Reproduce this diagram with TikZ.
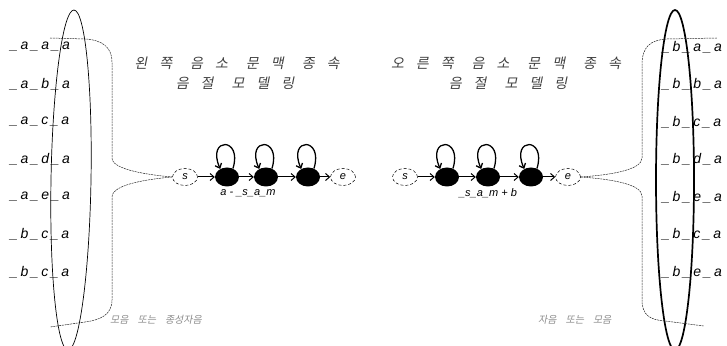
\documentclass[tikz,border=0pt]{standalone}
\usepackage{fontspec}
\setmainfont{Liberation Sans}
\newfontfamily\kor[FakeSlant=0.2]{Noto Sans CJK KR}
\usetikzlibrary{arrows.meta,shapes.geometric}
\newcommand\kg{\hspace{12pt}}
\newcommand\kw{\hspace{18pt}}
\newcommand\rw[3]{\_\kern2.6pt #1\kern2.6pt\_\kern2.6pt #2\kern2.6pt\_\kern2.6pt #3}
\begin{document}
\begin{tikzpicture}[x=1pt,y=1pt,
  rowtxt/.style={font=\itshape\fontsize{14}{14}\selectfont, anchor=west, inner sep=0pt},
  ttl/.style={font=\kor\fontsize{14}{14}\selectfont, text=black!75, inner sep=0pt},
  bot/.style={font=\kor\fontsize{10}{10}\selectfont, text=black!45, anchor=west, inner sep=0pt},
  snode/.style={draw, densely dashed, line width=0.5pt, ellipse, minimum width=25pt, minimum height=17pt, inner sep=0pt, font=\itshape\fontsize{11}{11}\selectfont},
  bnode/.style={fill=black, ellipse, minimum width=24pt, minimum height=19pt, inner sep=0pt},
  arr/.style={line width=1pt, -{Straight Barb[length=4pt,width=7pt]}},
  loopst/.style={line width=1.3pt, -{Straight Barb[length=4pt,width=7pt]}},
  lbl/.style={font=\itshape\fontsize{11}{11}\selectfont, inner sep=0pt},
  brace/.style={line width=0.5pt, black!85, dash pattern=on 2pt off 0.8pt},
  ring/.style={line width=0.7pt},
  thickring/.style={line width=1.7pt}]
\useasboundingbox (0,0) rectangle (727,345);

% left ellipse and rows
\draw[ring, rotate around={-1:(71,165)}] (71,165) ellipse [x radius=20, y radius=170];
\node[rowtxt] (l1) at (10,298) {\rw{a}{a}{a}};
\node[rowtxt] (l2) at (10,260.5) {\rw{a}{b}{a}};
\node[rowtxt] (l3) at (10,223) {\rw{a}{c}{a}};
\node[rowtxt] (l4) at (10,185.5) {\rw{a}{d}{a}};
\node[rowtxt] (l5) at (10,148) {\rw{a}{e}{a}};
\node[rowtxt] (l6) at (10,110.5) {\rw{b}{c}{a}};
\node[rowtxt] (l7) at (10,73) {\rw{b}{c}{a}};

% right ellipse and rows
\draw[thickring] (675,165) ellipse [x radius=19, y radius=170];
\node[rowtxt] (r1) at (662,298) {\rw{b}{a}{a}};
\node[rowtxt] (r2) at (662,260.5) {\rw{b}{b}{a}};
\node[rowtxt] (r3) at (662,223) {\rw{b}{c}{a}};
\node[rowtxt] (r4) at (662,185.5) {\rw{b}{d}{a}};
\node[rowtxt] (r5) at (662,148) {\rw{b}{e}{a}};
\node[rowtxt] (r6) at (662,110.5) {\rw{b}{c}{a}};
\node[rowtxt] (r7) at (662,73) {\rw{b}{e}{a}};

% titles
\node[ttl] (lt1) at (237,282) {왼\kg{}쪽\kw{}음\kg{}소\kw{}문\kg{}맥\kw{}종\kg{}속};
\node[ttl] (lt2) at (235,262) {음\kg{}절\kw{}모\kg{}델\kg{}링};
\node[ttl] (rt1) at (506,282) {오\kg{}른\kg{}쪽\kw{}음\kg{}소\kw{}문\kg{}맥\kw{}종\kg{}속};
\node[ttl] (rt2) at (508,262) {음\kg{}절\kw{}모\kg{}델\kg{}링};

% left model
\node[snode] (ls) at (185,168) {s};
\node[bnode] (la) at (227,168) {};
\node[bnode] (lb) at (266,168) {};
\node[bnode] (lc) at (308,168) {};
\node[snode] (le) at (343,168) {e};
\draw[arr] (ls) -- (la);
\draw[arr] (la) -- (lb);
\draw[arr] (lb) -- (lc);
\draw[arr] (lc) -- (le);
\foreach \n in {la,lb,lc}{
  \draw[loopst] (\n.55) .. controls +(10,32) and +(-14,32) .. (\n.130);
}
\node[lbl] (llab) at (248,152) {a - \_s\_a\_m};

% right model
\node[snode] (rs) at (405,168) {s};
\node[bnode] (ra) at (447,168) {};
\node[bnode] (rb) at (488,168) {};
\node[bnode] (rc) at (531,168) {};
\node[snode] (re) at (568,168) {e};
\draw[arr] (rs) -- (ra);
\draw[arr] (ra) -- (rb);
\draw[arr] (rb) -- (rc);
\draw[arr] (rc) -- (re);
\foreach \n in {ra,rb,rc}{
  \draw[loopst] (\n.55) .. controls +(10,32) and +(-14,32) .. (\n.130);
}
\node[lbl] (rlab) at (488,152) {\_s\_a\_m + b};

% left brace
\coordinate (lbt) at (50,307);
\coordinate (lbb) at (50,18);
\draw[brace] (lbt) -- (85,306) .. controls (102,305) and (112,298) .. (112,283) -- (112,187)
  .. controls (112,175) and (150,170) .. (ls.west);
\draw[brace] (ls.west) .. controls (150,166) and (112,161) .. (112,148) -- (112,45)
  .. controls (112,30) and (100,25) .. (85,23) -- (lbb);

% right brace
\coordinate (rbt) at (717,307);
\coordinate (rbb) at (704,19);
\draw[brace] (re.east) .. controls (610,170) and (642,175) .. (642,187) -- (642,280)
  .. controls (642,298) and (650,305) .. (667,306) -- (rbt);
\draw[brace] (re.east) .. controls (610,166) and (642,161) .. (642,149) -- (642,45)
  .. controls (642,30) and (650,25) .. (665,24) -- (rbb);

% bottom labels
\node[bot] (lbot) at (110,25) {모음\hspace{9pt}또는\hspace{9pt}종성자음};
\node[bot] (rbot) at (538,25) {자음\hspace{9pt}또는\hspace{9pt}모음};
\end{tikzpicture}
\end{document}
